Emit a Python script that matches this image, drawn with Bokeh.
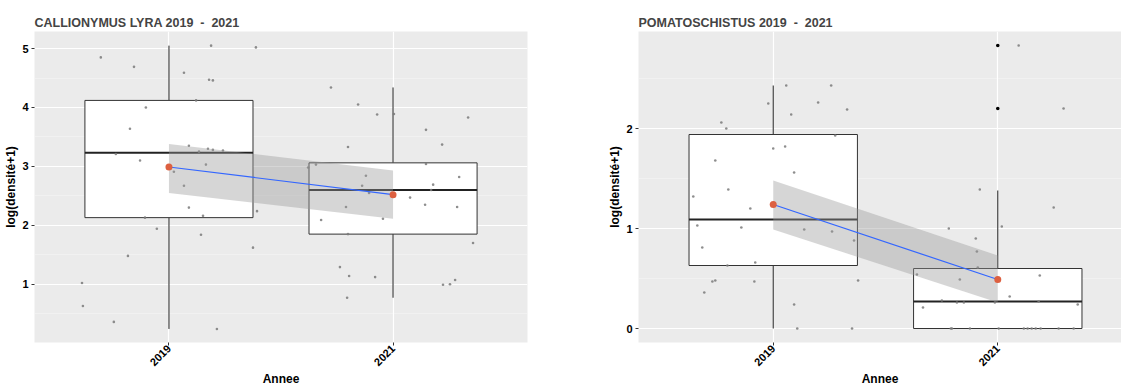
import math
from bokeh.plotting import figure
from bokeh.layouts import row
from bokeh.models import FixedTicker, SingleIntervalTicker, Range1d
from bokeh.embed import file_html
from bokeh.resources import INLINE

# ---------------- data ----------------
years = ["2019", "2021"]
year_pos = [1, 2]

# Panel 1 : CALLIONYMUS LYRA
lyra_title = "CALLIONYMUS LYRA 2019 \u00a0-\u00a0 2021"
lyra_q1 = [2.13, 1.85]
lyra_med = [3.23, 2.60]
lyra_q3 = [4.12, 3.06]
lyra_lo = [0.24, 0.77]
lyra_hi = [5.05, 4.34]
lyra_mean = [2.99, 2.52]
lyra_ci_low = [2.55, 2.11]
lyra_ci_high = [3.38, 2.93]
lyra_pts_x = [0.696, 0.844, 1.067, 1.188, 1.388, 1.179, 1.196, 1.121, 0.897, 0.826,
              1.089, 1.134, 1.174, 1.196, 1.241, 0.763, 0.871, 1.165, 1.022, 1.067,
              1.089, 1.152, 1.393, 0.893, 0.946, 1.143, 1.375, 0.817, 0.612, 0.616,
              0.754, 1.214,
              1.723, 1.844, 1.929, 2.004, 2.335, 2.147, 1.799, 2.219, 1.656, 2.147,
              1.621, 1.879, 1.862, 2.295, 2.179, 2.170, 1.893, 2.076, 2.143, 2.286,
              1.790, 1.679, 1.955, 1.799, 2.357, 1.763, 1.804, 1.920, 1.795, 2.223,
              2.254, 2.277]
lyra_pts_y = [4.85, 4.69, 4.59, 5.05, 5.02, 4.47, 4.46, 4.12, 4.00, 3.64,
              3.35, 3.25, 3.30, 3.28, 3.27, 3.21, 3.10, 3.03, 2.91, 2.67,
              2.30, 2.16, 2.24, 2.13, 1.94, 1.84, 1.62, 1.48, 1.02, 0.63,
              0.36, 0.24,
              4.34, 4.05, 3.88, 3.89, 3.83, 3.62, 3.33, 3.37, 3.03, 3.04,
              2.98, 2.84, 2.67, 2.82, 2.69, 2.60, 2.55, 2.47, 2.35, 2.31,
              2.31, 2.09, 2.11, 1.85, 1.70, 1.29, 1.14, 1.12, 0.77, 0.99,
              1.00, 1.07]
lyra_out_x = []
lyra_out_y = []

# Panel 2 : POMATOSCHISTUS
poma_title = "POMATOSCHISTUS 2019 \u00a0-\u00a0 2021"
poma_q1 = [0.63, 0.00]
poma_med = [1.09, 0.27]
poma_q3 = [1.94, 0.60]
poma_lo = [0.00, 0.00]
poma_hi = [2.43, 1.38]
poma_mean = [1.24, 0.49]
poma_ci_low = [0.99, 0.26]
poma_ci_high = [1.48, 0.73]
poma_pts_x = [1.058, 1.258, 0.978, 1.200, 1.329, 1.080, 0.769, 0.791, 1.276, 1.000,
              1.053, 0.742, 1.093, 0.800, 0.644, 0.898, 0.662, 0.858, 1.138, 1.262,
              1.360, 0.684, 0.796, 0.920, 0.729, 0.742, 0.916, 0.693, 1.093, 1.107,
              1.351, 1.378,
              2.093, 2.293, 1.920, 2.249, 2.018, 1.782, 1.902, 1.907, 1.911, 1.640,
              1.831, 2.187, 2.053, 1.751, 1.818, 1.849, 1.987, 2.182, 2.356, 1.667,
              1.791, 1.796, 1.876, 2.004, 2.116, 2.133, 2.151, 2.169, 2.191, 2.271,
              2.338]
poma_pts_y = [2.43, 2.43, 2.25, 2.26, 2.19, 2.14, 2.06, 2.00, 1.93, 1.80,
              1.82, 1.68, 1.56, 1.39, 1.32, 1.20, 1.03, 1.01, 0.99, 0.97,
              0.88, 0.81, 0.63, 0.66, 0.47, 0.48, 0.47, 0.36, 0.24, 0.00,
              0.00, 0.48,
              2.83, 2.20, 1.39, 1.21, 1.02, 1.00, 0.90, 0.77, 0.61, 0.54,
              0.49, 0.53, 0.32, 0.28, 0.26, 0.26, 0.26, 0.27, 0.24, 0.21,
              0.00, 0.00, 0.00, 0.00, 0.00, 0.00, 0.00, 0.00, 0.00, 0.00,
              0.00]
poma_out_x = [2, 2]
poma_out_y = [2.83, 2.20]

y_label = "log(densité+1)"
x_label = "Annee"

FONT = "Liberation Sans"


def make_panel(title, q1, med, q3, lo, hi, mean, ci_lo, ci_hi, px, py, ox, oy,
               x_end, y_start, y_end, left_border, right_border, frame_w):
    p = figure(width=left_border + frame_w + right_border, height=385,
               frame_width=frame_w, frame_height=311,
               min_border_left=left_border, min_border_right=right_border,
               min_border_top=31, min_border_bottom=40,
               x_range=Range1d(0.4, x_end), y_range=Range1d(y_start, y_end),
               output_backend="svg", toolbar_location=None)
    p.title.text = title
    p.title.text_font = FONT
    p.title.text_font_size = "12.5px"
    p.title.text_font_style = "bold"
    p.title.align = "left"
    p.title.offset = 0
    p.title.standoff = 4

    p.background_fill_color = "#EBEBEB"
    p.border_fill_color = "white"
    p.outline_line_color = None

    p.xaxis.ticker = FixedTicker(ticks=year_pos)
    p.xaxis.major_label_overrides = {k: v for k, v in zip(year_pos, years)}
    p.xaxis.major_label_orientation = math.pi / 4
    p.xaxis.axis_label = x_label
    p.yaxis.ticker = SingleIntervalTicker(interval=1, num_minor_ticks=2)
    p.yaxis.axis_label = y_label

    for ax in p.axis:
        ax.axis_line_color = None
        ax.major_tick_out = 3
        ax.major_tick_in = 0
        ax.major_tick_line_color = "#333333"
        ax.minor_tick_line_color = None
        ax.major_label_text_font = FONT
        ax.major_label_text_font_size = "11px"
        ax.major_label_text_font_style = "bold"
        ax.major_label_text_color = "black"
        ax.axis_label_text_font = FONT
        ax.axis_label_text_font_size = "12px"
        ax.axis_label_text_font_style = "bold"
        ax.axis_label_text_color = "black"
    p.xaxis.major_label_standoff = 1
    p.xaxis.axis_label_standoff = 0
    p.yaxis.major_label_standoff = 2
    p.yaxis.axis_label_standoff = 1

    p.xgrid.ticker = FixedTicker(ticks=year_pos)
    p.xgrid.grid_line_color = "white"
    p.xgrid.grid_line_width = 1.2
    p.ygrid.ticker = SingleIntervalTicker(interval=1, num_minor_ticks=2)
    p.ygrid.grid_line_color = "white"
    p.ygrid.grid_line_width = 1.2
    p.ygrid.minor_grid_line_color = "white"
    p.ygrid.minor_grid_line_width = 0.5
    p.ygrid.minor_grid_line_alpha = 0.6

    # whiskers
    p.segment(x0=year_pos, y0=q3, x1=year_pos, y1=hi, line_color="#222222", line_width=1)
    p.segment(x0=year_pos, y0=lo, x1=year_pos, y1=q1, line_color="#222222", line_width=1)
    # boxes
    p.vbar(x=year_pos, width=0.75, bottom=q1, top=q3, fill_color="white",
           line_color="#333333", line_width=1)
    # medians
    p.segment(x0=[x - 0.375 for x in year_pos], y0=med,
              x1=[x + 0.375 for x in year_pos], y1=med,
              line_color="#222222", line_width=2)
    # jittered points
    p.scatter(x=px, y=py, size=2.6, fill_color="#7A7A7A", line_color=None, fill_alpha=0.85)
    # outliers
    if ox:
        p.scatter(x=ox, y=oy, size=3.6, fill_color="black", line_color=None)
    # smooth ribbon + line
    p.varea(x=year_pos, y1=ci_lo, y2=ci_hi, fill_color="#999999", fill_alpha=0.4)
    p.line(x=year_pos, y=mean, line_color="#3366FF", line_width=1.2)
    # mean points
    p.scatter(x=year_pos, y=mean, size=7, fill_color="#DD6040", line_color=None)
    return p


p1 = make_panel(lyra_title, lyra_q1, lyra_med, lyra_q3, lyra_lo, lyra_hi, lyra_mean,
                lyra_ci_low, lyra_ci_high, lyra_pts_x, lyra_pts_y, lyra_out_x, lyra_out_y,
                2.6, 0.01, 5.29, 34, 33, 493)
p2 = make_panel(poma_title, poma_q1, poma_med, poma_q3, poma_lo, poma_hi, poma_mean,
                poma_ci_low, poma_ci_high, poma_pts_x, poma_pts_y, poma_out_x, poma_out_y,
                2.551, -0.14, 2.97, 78, 0, 483)

layout = row(p1, p2, spacing=0)
open("out.html", "w").write(file_html(layout, INLINE))
